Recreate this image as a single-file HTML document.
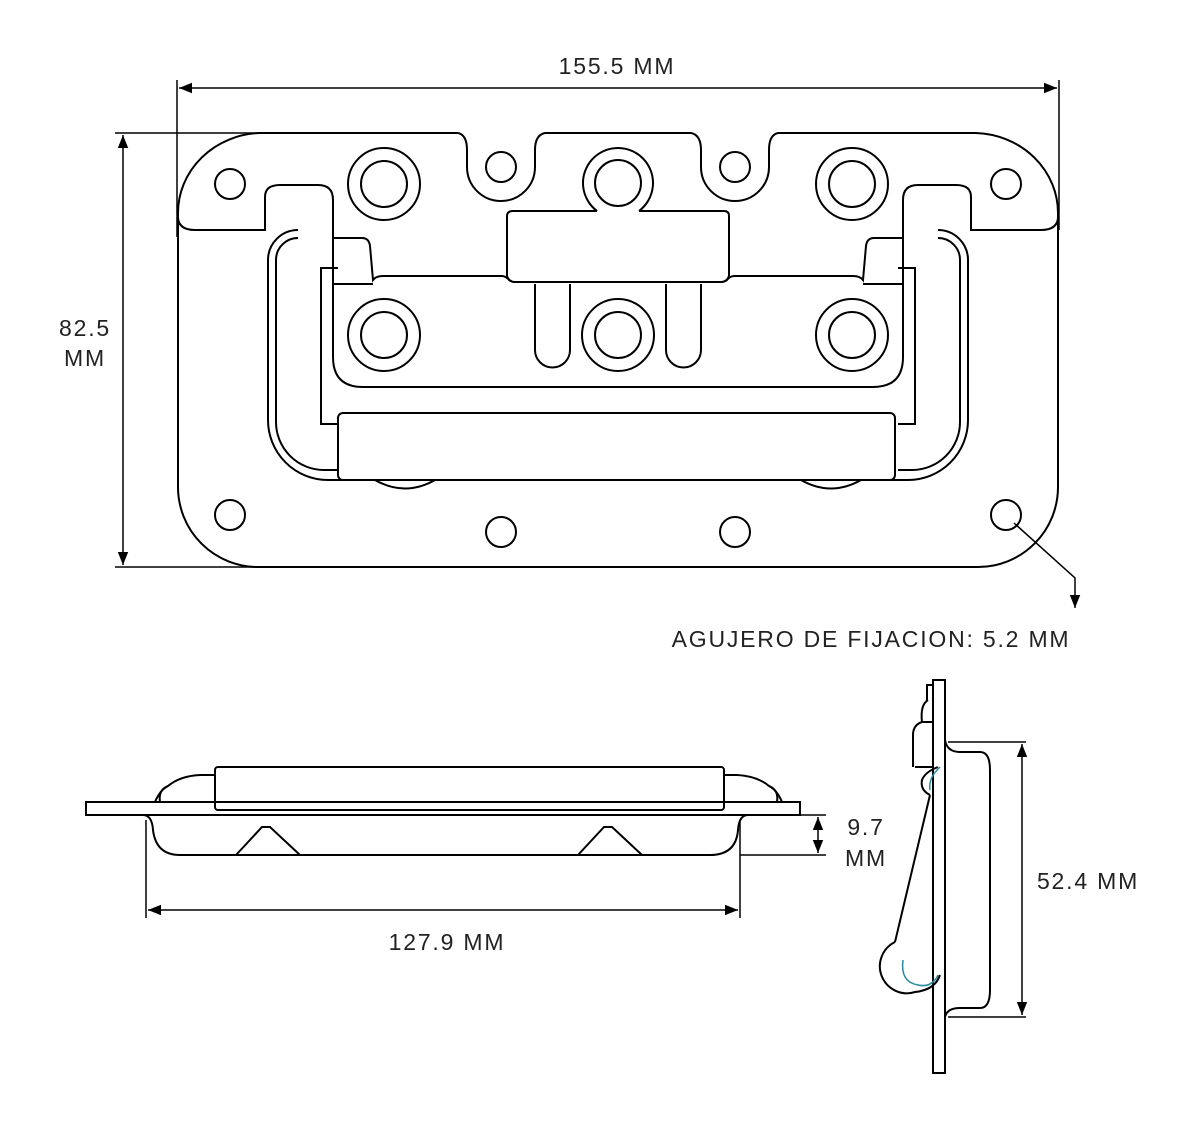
<!DOCTYPE html>
<html><head><meta charset="utf-8"><style>
body{margin:0;background:#fff;}
svg{display:block}
text{font-family:"Liberation Sans",sans-serif;font-size:23px;fill:#222;letter-spacing:1.8px}
</style></head><body>
<svg width="1200" height="1126" viewBox="0 0 1200 1126" xmlns="http://www.w3.org/2000/svg">
<defs>
<marker id="ar" viewBox="0 0 10 10" refX="10" refY="5" markerWidth="13" markerHeight="13" orient="auto-start-reverse" markerUnits="userSpaceOnUse"><path d="M0,1 L10,5 L0,9 z" fill="#000"/></marker>
<g id="half" fill="none" stroke="#000" stroke-width="2">
  <path d="M458,133 L260,133 A85,80 0 0 0 178,213 L178,218 Q179,230 195,230 L265,230 L265,197 Q265,185 280,185 L318,185 Q333,185 333,200 L333,357 Q333,387 363,387 L618,387"/>
  <path d="M458,133 Q467,135 467,150 L467,167 A34,34 0 0 0 535,167 L535,150 Q535,135 545,133 L618,133"/>
  <circle cx="501" cy="167" r="15"/>
  <circle cx="230" cy="184" r="15"/>
  <circle cx="384" cy="184" r="36"/><circle cx="384" cy="184" r="23"/>
  <circle cx="384" cy="335" r="36"/><circle cx="384" cy="335" r="23"/>
  <path d="M333,238 L362,238 Q369,238 370,246 L373,280 Q376,276 383,276 L502,276 Q506,276 510,281"/>
  <path d="M333,284 L373,284"/>
  <path d="M535,284 L535,350 A17,17 0 0 0 570,350 L570,284"/>
  <path d="M298,230 A30,30 0 0 0 268,260 L268,420 A60,60 0 0 0 328,480 L618,480"/>
  <path d="M298,238 A22,22 0 0 0 276,260 L276,422 A48,48 0 0 0 324,470 L338,470"/>
  <path d="M338,268 L321,268 L321,424 L338,424"/>
  <path d="M375,480 Q405,497 435,480"/>
  <path d="M178,218 L178,487 A80,80 0 0 0 258,567 L618,567"/>
  <circle cx="230" cy="515" r="15"/>
  <circle cx="501" cy="532" r="15"/>
</g>
</defs>

<g fill="none" stroke="#000" stroke-width="2">
<use href="#half"/>
<use href="#half" transform="translate(1236,0) scale(-1,1)"/>
<path d="M597,211 A35,35 0 1 1 639,211"/>
<circle cx="618" cy="183" r="23"/>
<path d="M507,276 L507,216 Q507,211 513,211 L597,211 M639,211 L724,211 Q729,211 729,216 L729,276"/>
<path d="M507,276 Q509,282 515,282 L721,282 Q727,282 729,276"/>
<circle cx="618" cy="335" r="36"/><circle cx="618" cy="335" r="23"/>
<rect x="338" y="413" width="557" height="67" rx="5"/>
</g>

<g stroke="#000" stroke-width="1.5" fill="none">
<line x1="177" y1="80" x2="177" y2="237"/>
<line x1="1059" y1="80" x2="1059" y2="230"/>
<line x1="179" y1="88" x2="1057" y2="88" marker-start="url(#ar)" marker-end="url(#ar)"/>
<line x1="115" y1="133" x2="260" y2="133"/>
<line x1="115" y1="567" x2="260" y2="567"/>
<line x1="123" y1="135" x2="123" y2="565" marker-start="url(#ar)" marker-end="url(#ar)"/>
<polyline points="1014,523 1075,578 1075,608" marker-end="url(#ar)"/>
</g>
<text x="617" y="74" text-anchor="middle">155.5 MM</text>
<text x="85" y="336" text-anchor="middle">82.5</text>
<text x="85" y="366" text-anchor="middle">MM</text>
<text x="871" y="647" text-anchor="middle">AGUJERO DE FIJACION: 5.2 MM</text>

<g fill="none" stroke="#000" stroke-width="2">
<rect x="86" y="802" width="714" height="13"/>
<rect x="215" y="767" width="509" height="43" rx="3"/>
<path d="M155,802 Q160,790 168,786 Q180,776 200,775 L215,775"/>
<path d="M160,802 Q158,790 168,786"/>
<path d="M782,802 Q777,790 769,786 Q757,776 737,775 L724,775"/>
<path d="M777,802 Q779,790 769,786"/>
<path d="M143,815 Q152,815 153,830 Q156,855 180,855 L710,855 Q736,855 738,830 Q739,815 748,815"/>
<path d="M236,855 L262,827 L270,827 L300,855"/>
<path d="M578,855 L604,827 L612,827 L642,855"/>
</g>
<g stroke="#000" stroke-width="1.5" fill="none">
<line x1="146" y1="820" x2="146" y2="918"/>
<line x1="740" y1="820" x2="740" y2="918"/>
<line x1="148" y1="910" x2="738" y2="910" marker-start="url(#ar)" marker-end="url(#ar)"/>
<line x1="800" y1="815" x2="826" y2="815"/>
<line x1="740" y1="855" x2="826" y2="855"/>
<line x1="818" y1="817" x2="818" y2="853" marker-start="url(#ar)" marker-end="url(#ar)"/>
</g>
<text x="866" y="835" text-anchor="middle">9.7</text>
<text x="866" y="866" text-anchor="middle">MM</text>
<text x="447" y="950" text-anchor="middle">127.9 MM</text>

<g fill="none" stroke="#000" stroke-width="2">
<rect x="933" y="680" width="12" height="393"/>
<path d="M945,740 Q947,752 960,752 L980,752 Q990,752 990,770 L990,990 Q990,1008 980,1008 L960,1008 Q947,1008 945,1017"/>
<path d="M913,767 L913,735 Q913,725 922,722 L933,722 M915,767 L933,767"/>
<path d="M922,722 Q920,705 928,700 M927,700 L927,685 L933,685"/>
<path d="M938,767 Q925,772 922,780 Q920,790 930,795 M930,795 L895,942"/>
<path d="M940,975 Q935,990 915,992 A27,27 0 0 1 895,942"/>
</g>
<path d="M940,767 Q928,778 930,790" stroke="#2a8aa0" stroke-width="1.5" fill="none"/>
<path d="M938,975 Q932,988 918,985 Q900,982 903,960" stroke="#2a8aa0" stroke-width="1.5" fill="none"/>
<g stroke="#000" stroke-width="1.5" fill="none">
<line x1="948" y1="742" x2="1026" y2="742"/>
<line x1="948" y1="1017" x2="1026" y2="1017"/>
<line x1="1022" y1="744" x2="1022" y2="1015" marker-start="url(#ar)" marker-end="url(#ar)"/>
</g>
<text x="1088" y="889" text-anchor="middle">52.4 MM</text>
</svg>
</body></html>
